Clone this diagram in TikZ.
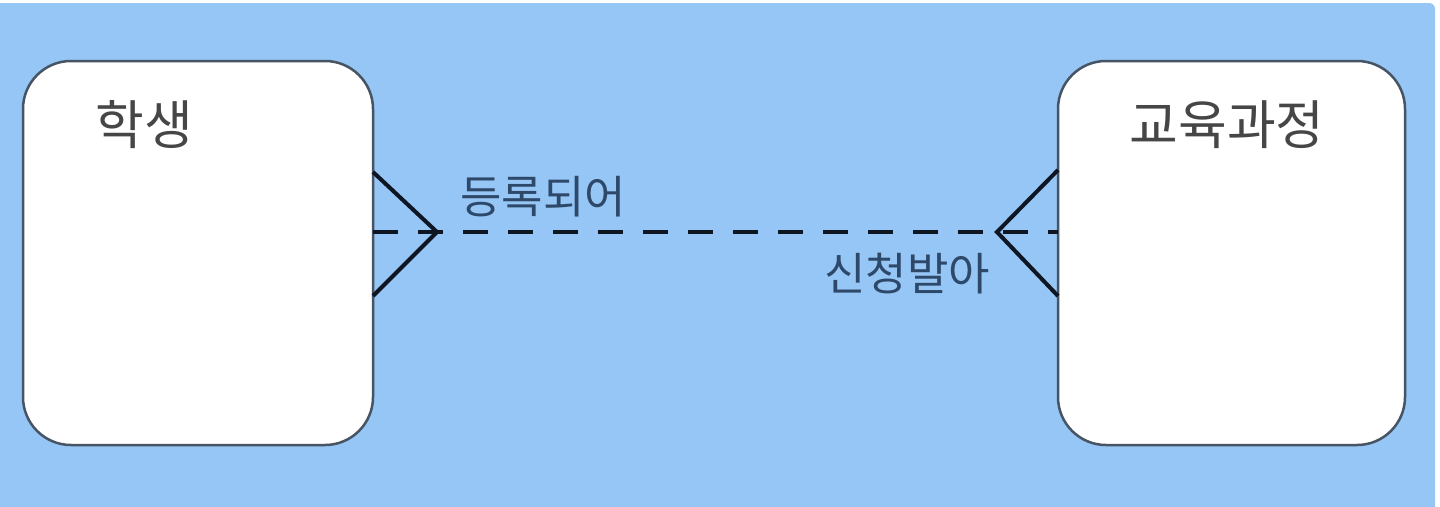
\documentclass[tikz,border=0pt]{standalone}
\usepackage{fontspec}
\newfontfamily\kr{Noto Sans CJK KR}
\definecolor{bgblue}{RGB}{150,198,245}
\definecolor{boxline}{RGB}{70,84,100}
\definecolor{boxtext}{RGB}{70,70,70}
\definecolor{reltext}{RGB}{45,72,105}
\definecolor{linecol}{RGB}{15,22,35}
\begin{document}
\begin{tikzpicture}[x=1pt,y=-1pt,
  entity/.style={draw=boxline,line width=2.5pt,fill=white,rounded corners=48pt},
  title/.style={font=\kr\fontsize{53}{56}\selectfont,text=boxtext,inner sep=0pt},
  rel/.style={font=\kr\fontsize{45}{48}\selectfont,text=reltext,inner sep=0pt},
  crow/.style={draw=linecol,line width=4pt},
  reldash/.style={draw=linecol,line width=4pt,dash pattern=on 25pt off 20pt}]
\useasboundingbox (0,0) rectangle (1440,506);
\fill[white] (0,0) rectangle (1440,506);
\fill[bgblue,rounded corners=6pt] (-20,3) rectangle (1435,515);
% entities
\draw[entity] (23,61) rectangle (373,445);
\draw[entity] (1058,61) rectangle (1405,445);
\coordinate (L) at (373,232);
\coordinate (R) at (1058,232);
\coordinate (LT) at (437,232);
\coordinate (RT) at (997,232);
\coordinate (L1) at (373,172);
\coordinate (L2) at (373,296);
\coordinate (R1) at (1058,170);
\coordinate (R2) at (1058,296);
\node[title] (s) at (144,125) {학생};
\node[title] (c) at (1227,125) {교육과정};
\draw[reldash] (L) -- (R);
\draw[crow] (L1) -- (LT) -- (L2);
\draw[crow] (R1) -- (RT) -- (R2);
\node[rel] (r1) at (543,197) {등록되어};
\node[rel] (r2) at (907,274) {신청발아};
\end{tikzpicture}
\end{document}
